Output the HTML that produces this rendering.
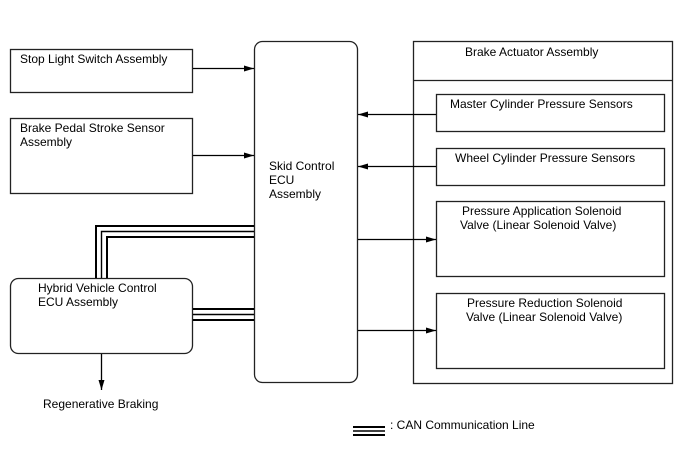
<!DOCTYPE html>
<html><head><meta charset="utf-8"><style>
html,body{margin:0;padding:0;background:#fff;}
svg{display:block;}
text{font-family:"Liberation Sans",Arial,sans-serif;font-size:12px;fill:#000;}
</style></head><body>
<svg width="688" height="463" viewBox="0 0 688 463" xmlns="http://www.w3.org/2000/svg">
<defs>
<marker id="a" viewBox="0 0 10 6" refX="10" refY="3" markerWidth="10" markerHeight="6" markerUnits="userSpaceOnUse" orient="auto"><path d="M0,0 L10,3 L0,6 z" fill="#000"/></marker>
</defs>
<g fill="none" stroke="#222" stroke-width="1.3">
<rect x="10.5" y="49.5" width="182" height="43"/>
<rect x="10.5" y="118.5" width="182" height="75"/>
<rect x="254.5" y="41.5" width="103" height="341" rx="8"/>
<rect x="10.5" y="278.5" width="182" height="75" rx="8"/>
<rect x="413.5" y="41.5" width="259" height="342"/>
<line x1="413" y1="80.5" x2="673" y2="80.5"/>
<rect x="436.5" y="94.5" width="228" height="37"/>
<rect x="436.5" y="148.5" width="228" height="37"/>
<rect x="436.5" y="201.5" width="228" height="75"/>
<rect x="436.5" y="293.5" width="228" height="75"/>
</g>
<g stroke="#000" stroke-width="1.3" fill="none">
<line x1="193" y1="68.5" x2="254" y2="68.5" marker-end="url(#a)"/>
<line x1="193" y1="155.5" x2="254" y2="155.5" marker-end="url(#a)"/>
<line x1="436" y1="114.5" x2="358" y2="114.5" marker-end="url(#a)"/>
<line x1="436" y1="166.5" x2="358" y2="166.5" marker-end="url(#a)"/>
<line x1="358" y1="239.5" x2="436" y2="239.5" marker-end="url(#a)"/>
<line x1="358" y1="330.5" x2="436" y2="330.5" marker-end="url(#a)"/>
<line x1="101.5" y1="354" x2="101.5" y2="390" marker-end="url(#a)"/>
</g>
<g stroke="#000" stroke-width="2" fill="none">
<polyline points="96,278 96,226 254,226"/>
<polyline points="101.5,278 101.5,231.5 254,231.5" stroke-width="1.4"/>
<polyline points="107,278 107,237 254,237"/>
<line x1="193" y1="309" x2="254" y2="309"/>
<line x1="193" y1="314.5" x2="254" y2="314.5" stroke-width="1.4"/>
<line x1="193" y1="320" x2="254" y2="320"/>
<line x1="353" y1="427" x2="385" y2="427"/>
<line x1="353" y1="431" x2="385" y2="431" stroke-width="1.4"/>
<line x1="353" y1="435" x2="385" y2="435"/>
</g>
<text x="20" y="63">Stop Light Switch Assembly</text>
<text x="20" y="132">Brake Pedal Stroke Sensor</text>
<text x="20" y="146">Assembly</text>
<text x="269" y="170">Skid Control</text>
<text x="269" y="184">ECU</text>
<text x="269" y="198">Assembly</text>
<text x="38" y="292">Hybrid Vehicle Control</text>
<text x="38" y="306">ECU Assembly</text>
<text x="43" y="408">Regenerative Braking</text>
<text x="465" y="56">Brake Actuator Assembly</text>
<text x="450" y="108">Master Cylinder Pressure Sensors</text>
<text x="455" y="162">Wheel Cylinder Pressure Sensors</text>
<text x="462" y="215">Pressure Application Solenoid</text>
<text x="460" y="229">Valve (Linear Solenoid Valve)</text>
<text x="467" y="307">Pressure Reduction Solenoid</text>
<text x="466" y="321">Valve (Linear Solenoid Valve)</text>
<text x="390" y="429">: CAN Communication Line</text>
</svg>
</body></html>
